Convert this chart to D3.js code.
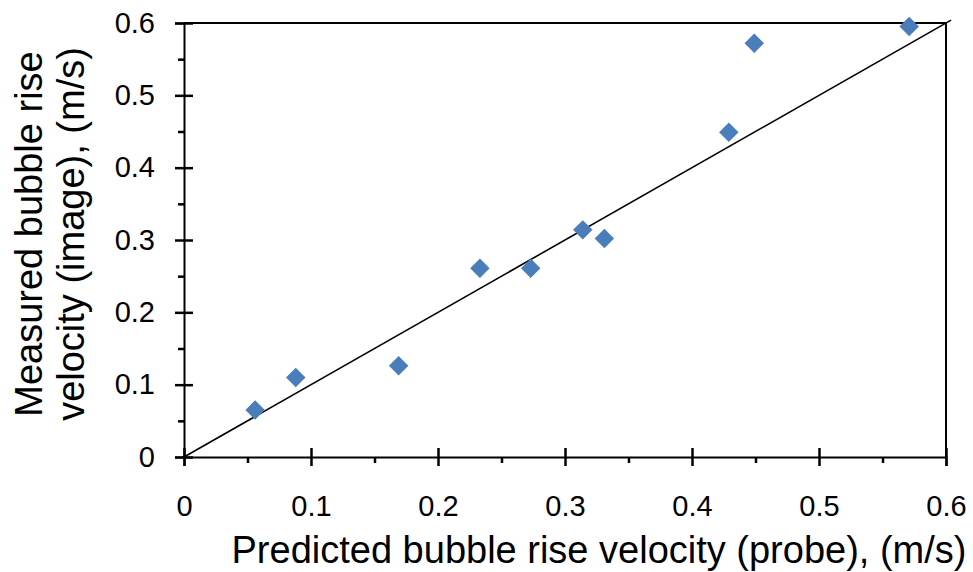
<!DOCTYPE html>
<html>
<head>
<meta charset="utf-8">
<script src="https://cdn.jsdelivr.net/npm/d3@7"></script>
<style>
  body { margin: 0; background: #fff; }
  text { font-family: "Liberation Sans", Arial, sans-serif; fill: #000; }
</style>
</head>
<body>
<svg id="chart" width="973" height="572"></svg>
<script>
// values
var predicted = [0.056, 0.088, 0.169, 0.233, 0.273, 0.314, 0.331, 0.429, 0.449, 0.571];
var measured  = [0.065, 0.110, 0.126, 0.261, 0.261, 0.314, 0.302, 0.449, 0.572, 0.595];
var majorTicks = [0, 0.1, 0.2, 0.3, 0.4, 0.5, 0.6];
var minorTicks = [0.05, 0.15, 0.25, 0.35, 0.45, 0.55];
var refLine = [0, 0.604];

var margin = {left: 184, top: 23, right: 27, bottom: 115};
var svg = d3.select("#chart");
var width = 973 - margin.left - margin.right,
    height = 572 - margin.top - margin.bottom;

var x = d3.scaleLinear().domain([0, 0.6]).range([0, width]);
var y = d3.scaleLinear().domain([0, 0.6]).range([height, 0]);

var g = svg.append("g")
    .attr("transform", "translate(" + margin.left + "," + margin.top + ")");

// frame (top and right)
g.append("line").attr("x1", 0).attr("x2", width).attr("y1", 0).attr("y2", 0)
    .attr("stroke", "#000").attr("stroke-width", 2);
g.append("line").attr("x1", width).attr("x2", width).attr("y1", 0).attr("y2", height)
    .attr("stroke", "#000").attr("stroke-width", 2);

// x axis
var xAxis = d3.axisBottom(x).tickValues(majorTicks)
    .tickFormat(function(d) { return d === 0 ? "0" : d3.format(".1f")(d); })
    .tickSize(9).tickPadding(29);
var xg = g.append("g").attr("transform", "translate(0," + height + ")").call(xAxis);
xg.selectAll(".tick line").attr("y1", -9);
var xMinor = d3.axisBottom(x).tickValues(minorTicks).tickSize(6).tickFormat("");
g.append("g").attr("transform", "translate(0," + height + ")").call(xMinor)
    .select(".domain").remove();

// y axis
var yAxis = d3.axisLeft(y).tickValues(majorTicks)
    .tickFormat(function(d) { return d === 0 ? "0" : d3.format(".1f")(d); })
    .tickSize(9).tickPadding(20);
var yg = g.append("g").call(yAxis);
yg.selectAll(".tick line").attr("x1", 9);
var yMinor = d3.axisLeft(y).tickValues(minorTicks).tickSize(6).tickFormat("");
g.append("g").call(yMinor).select(".domain").remove();

g.selectAll(".domain").attr("stroke-width", 2);
g.selectAll(".tick line").attr("stroke-width", 2.5);
g.selectAll(".tick text").style("font-size", "29px");

// 1:1 line
g.append("line")
    .attr("x1", x(refLine[0])).attr("y1", y(refLine[0]))
    .attr("x2", x(refLine[1])).attr("y2", y(refLine[1]))
    .attr("stroke", "#000").attr("stroke-width", 1.6);

// points
var pts = predicted.map(function(p, i) { return {p: p, m: measured[i]}; });
var diamond = d3.symbol().type(d3.symbolSquare).size(190);
g.selectAll(".pt")
    .data(pts)
    .enter().append("path")
    .attr("class", "pt")
    .attr("d", diamond)
    .attr("transform", function(d) {
      return "translate(" + x(d.p) + "," + y(d.m) + ") rotate(45)";
    })
    .attr("fill", "#4a7ebb");

// axis titles
svg.append("text")
    .attr("x", 599).attr("y", 563)
    .attr("text-anchor", "middle")
    .style("font-size", "38px")
    .text("Predicted bubble rise velocity (probe), (m/s)");

var yt = svg.append("text")
    .attr("transform", "translate(0,234) rotate(-90)")
    .attr("text-anchor", "middle")
    .style("font-size", "38px");
yt.append("tspan").attr("x", 0).attr("y", 42).text("Measured bubble rise");
yt.append("tspan").attr("x", 0).attr("y", 84).text("velocity (image), (m/s)");
</script>
</body>
</html>
